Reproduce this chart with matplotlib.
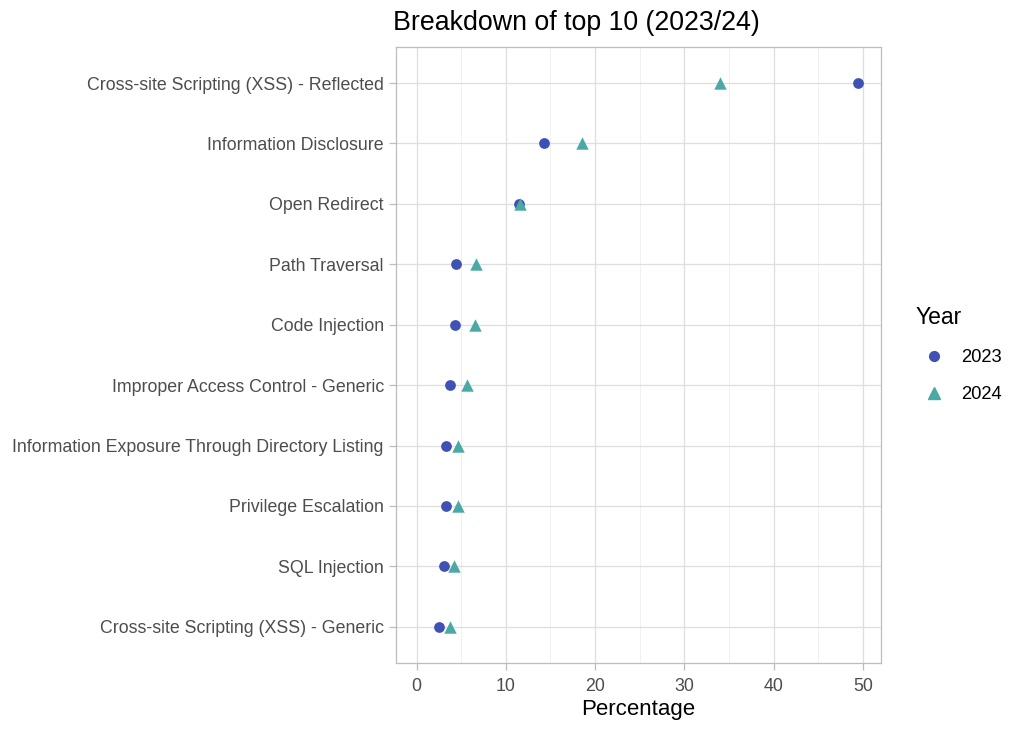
import numpy as np
import matplotlib.pyplot as plt
from matplotlib.lines import Line2D

# categories, top to bottom
categories = ["Cross-site Scripting (XSS) - Reflected", "Information Disclosure", "Open Redirect",
              "Path Traversal", "Code Injection", "Improper Access Control - Generic",
              "Information Exposure Through Directory Listing", "Privilege Escalation",
              "SQL Injection", "Cross-site Scripting (XSS) - Generic"]
pct2023 = [49.5, 14.3, 11.45, 4.47, 4.33, 3.8, 3.29, 3.29, 3.02, 2.5]
pct2024 = [34.0, 18.55, 11.6, 6.7, 6.6, 5.7, 4.63, 4.63, 4.25, 3.77]
xticks = [0, 10, 20, 30, 40, 50]

col23 = "#3F51B5"
col24 = "#4AA9A5"
grey_text = "#4D4D4D"

plt.rcParams['font.family'] = ['Liberation Sans', 'DejaVu Sans']

fig = plt.figure(figsize=(10.24, 7.31), dpi=100)
ax = fig.add_axes([0.387, 0.093, 0.473, 0.843])

n = len(categories)
ypos = np.arange(n)[::-1]

ax.scatter(pct2023, ypos, marker='o', s=60, color=col23, zorder=3, linewidths=0)
ax.scatter(pct2024, ypos, marker='^', s=80, color=col24, zorder=4, linewidths=0)

ax.set_xlim(-2.27, 51.98)
ax.set_ylim(-0.6, n - 1 + 0.6)
ax.set_xticks(xticks)
ax.set_xticks([5, 15, 25, 35, 45], minor=True)
ax.set_yticks(ypos)
ax.set_yticklabels(categories)

ax.grid(True, which='major', color='#DEDEDE', linewidth=0.9)
ax.grid(True, which='minor', axis='x', color='#EFEFEF', linewidth=0.6)
ax.set_axisbelow(True)
for s in ax.spines.values():
    s.set_color('#BDBDBD')
    s.set_linewidth(0.9)

ax.tick_params(axis='both', which='major', colors='#BDBDBD', labelcolor=grey_text,
               labelsize=12.8, length=5, width=0.9, pad=4)
ax.tick_params(axis='x', which='major', pad=6)
ax.tick_params(axis='both', which='minor', length=0)

ax.set_xlabel("Percentage", fontsize=16, color='black', labelpad=3)
ax.set_title("Breakdown of top 10 (2023/24)", fontsize=19.3, loc='left', pad=12, x=-0.006)

handles = [
    Line2D([0], [0], marker='o', color=col23, markersize=7, linestyle='None'),
    Line2D([0], [0], marker='^', color=col24, markersize=8.5, linestyle='None'),
]
leg = fig.legend(handles, ["2023", "2024"], title="Year", loc='center left',
                 bbox_to_anchor=(0.880, 0.515), frameon=False, fontsize=13.2,
                 title_fontsize=16.5, handletextpad=0.45, labelspacing=1.1,
                 borderpad=0.3)
leg._legend_box.align = "left"

fig.savefig("out.png", dpi=100)
